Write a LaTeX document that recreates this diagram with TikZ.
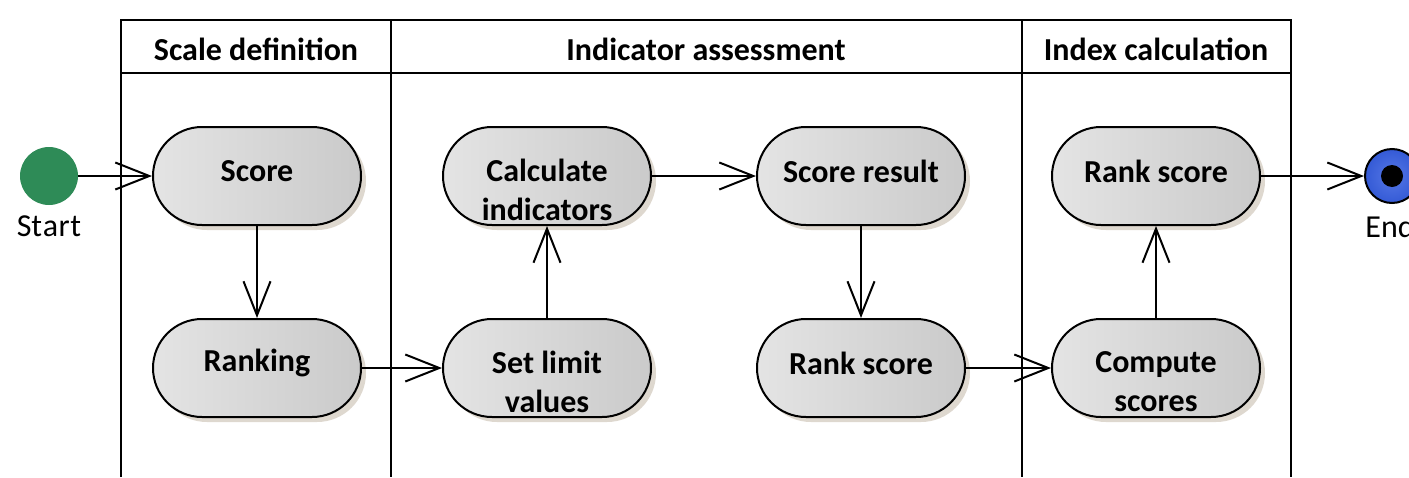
\documentclass[tikz,border=0pt]{standalone}
\usepackage{fontspec}
\setmainfont{Carlito}
\usetikzlibrary{arrows.meta,shadows}
\definecolor{actleft}{RGB}{228,228,228}
\definecolor{actright}{RGB}{202,202,202}
\definecolor{actshadow}{RGB}{222,216,207}
\definecolor{startgreen}{RGB}{46,139,87}
\definecolor{endblue}{RGB}{55,95,225}
\begin{document}
\begin{tikzpicture}[x=0.5pt,y=-0.5pt,
  lane/.style={line width=1.4pt},
  lanetitle/.style={font=\bfseries\fontsize{16}{19.5}\selectfont},
  act/.style={draw, line width=1pt, minimum width=104pt, minimum height=49pt,
    rounded corners=24.5pt, left color=actleft, right color=actright,
    drop shadow={shadow xshift=2.5pt, shadow yshift=-2.5pt, fill=actshadow, opacity=1}},
  txt/.style={font=\bfseries\fontsize{16}{19.5}\selectfont, align=center, inner sep=0pt},
  oneline/.style={label={[txt,yshift=2.5pt]center:#1}},
  twoline/.style={label={[txt,yshift=-7pt]center:#1}},
  flow/.style={line width=1pt, -{Straight Barb[length=17pt,width=13.5pt,line width=1pt]}},
  caption/.style={font=\fontsize{16}{19}\selectfont, inner sep=0pt}]
\clip (0,0) rectangle (1409,477);

% swimlane frame
\draw[lane] (121,477) -- (121,20) -- (1291,20) -- (1291,477);
\draw[lane] (121,73) -- (1291,73);
\draw[lane] (391,20) -- (391,477);
\draw[lane] (1022,20) -- (1022,477);
\node[lanetitle] (t1) at (256,49) {Scale definition};
\node[lanetitle] (t2) at (706,49) {Indicator assessment};
\node[lanetitle] (t3) at (1156,49) {Index calculation};

% initial and final nodes
\node[circle, fill=startgreen, minimum size=29pt, inner sep=0pt] (start) at (49,176) {};
\node[caption] (startlbl) at (49,226) {St\kern0.3pt a\kern0.3pt r\kern0.3pt t};
\node[circle, draw, line width=1pt, inner color=endblue!85, outer color=endblue!95!black,
  minimum size=27pt, inner sep=0pt] (end) at (1392,176) {};
\node[circle, fill=black, minimum size=11pt, inner sep=0pt] (enddot) at (end.center) {};
\node[caption] (endlbl) at (1390,226) {End};

% activities
\node[act, oneline=Score] (score) at (257,176) {};
\node[act, oneline=Ranking] (ranking) at (257,368) {};
\node[act, twoline={Calculate\\indicators}] (calc) at (547,176) {};
\node[act, twoline={Set limit\\values}] (setlim) at (547,368) {};
\node[act, oneline={Score result}] (result) at (861,176) {};
\node[act, oneline={Rank score}] (rankA) at (861,368) {};
\node[act, oneline={Rank score}] (rankB) at (1156,176) {};
\node[act, twoline={Compute\\scores}] (compute) at (1156,368) {};

% control flow
\draw[flow] (start) -- (score);
\draw[flow] (score) -- (ranking);
\draw[flow] (ranking) -- (setlim);
\draw[flow] (setlim) -- (calc);
\draw[flow] (calc) -- (result);
\draw[flow] (result) -- (rankA);
\draw[flow] (rankA) -- (compute);
\draw[flow] (compute) -- (rankB);
\draw[flow] (rankB) -- (end);
\end{tikzpicture}
\end{document}
